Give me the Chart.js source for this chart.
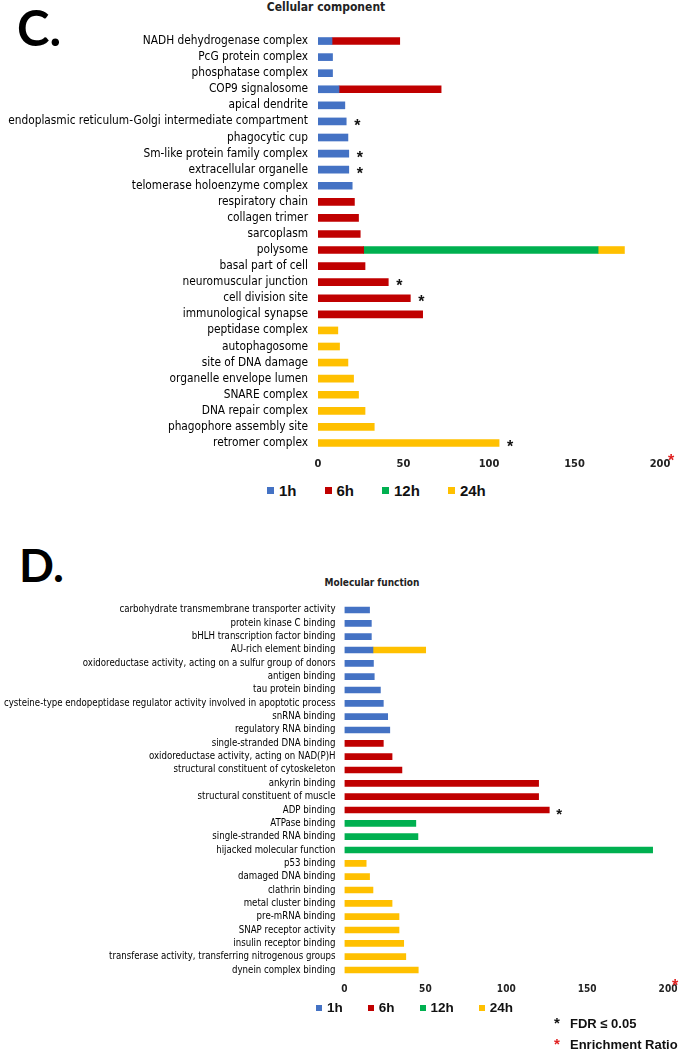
<!DOCTYPE html>
<html><head><meta charset="utf-8">
<script src="https://cdn.jsdelivr.net/npm/chart.js@4.4.1/dist/chart.umd.min.js"></script>
<style>
html,body{margin:0;padding:0;background:#fff;}
body{width:684px;height:1050px;position:relative;overflow:hidden;font-family:'Liberation Sans',Arial,sans-serif;}
.panel{position:absolute;font-family:Lato,'Noto Sans',sans-serif;font-weight:700;color:#000;line-height:1;}
.ttl{position:absolute;width:300px;text-align:center;font-family:'Liberation Sans Narrow','DejaVu Sans Condensed',sans-serif;font-weight:700;color:#222;line-height:1;}
#wrapC{position:absolute;left:0;top:0;width:684px;height:480px;}
#wrapD{position:absolute;left:0;top:560px;width:684px;height:490px;}
.legend{position:absolute;display:flex;align-items:center;font-family:'Liberation Sans',Arial,sans-serif;font-weight:700;color:#111;line-height:1;white-space:nowrap;}
.legend .it{display:flex;align-items:center;}
.legend .bx{display:inline-block;margin-right:5px;}
.note{position:absolute;left:554px;font-family:'Liberation Sans',Arial,sans-serif;font-size:13px;font-weight:700;color:#111;line-height:1;white-space:nowrap;}
.note span{display:inline-block;width:16px;font-size:15px;}
</style></head>
<body>
<div class="panel" style="left:17px;top:3px;font-size:49px">C.</div>
<div class="ttl" style="left:176px;top:1px;font-size:12px">Cellular component</div>
<div id="wrapC"><canvas id="chartC"></canvas></div>
<div id="legC" class="legend" style="left:267px;top:482px;height:16px;font-size:15px;gap:28px"></div>
<div class="panel" style="left:19px;top:542px;font-size:46px">D.</div>
<div class="ttl" style="left:222px;top:578px;font-size:10px">Molecular function</div>
<div id="wrapD"><canvas id="chartD"></canvas></div>
<div id="legD" class="legend" style="left:316px;top:1001px;height:14px;font-size:13.5px;gap:25px"></div>
<div class="note" style="top:1015px"><span>*</span>FDR ≤ 0.05</div>
<div class="note" style="top:1036px"><span style="color:#e02020">*</span>Enrichment Ratio</div>
<script>
// ---------- Data: Cellular component ----------
const categoriesC = [
  "NADH dehydrogenase complex","PcG protein complex","phosphatase complex","COP9 signalosome",
  "apical dendrite","endoplasmic reticulum-Golgi intermediate compartment","phagocytic cup",
  "Sm-like protein family complex","extracellular organelle","telomerase holoenzyme complex",
  "respiratory chain","collagen trimer","sarcoplasm","polysome","basal part of cell",
  "neuromuscular junction","cell division site","immunological synapse","peptidase complex",
  "autophagosome","site of DNA damage","organelle envelope lumen","SNARE complex",
  "DNA repair complex","phagophore assembly site","retromer complex"
];
const c1h  = [8.2,8.5,8.5,12.3,15.7,16.5,17.5,18,18,20, 0,0,0,0,0,0,0,0, 0,0,0,0,0,0,0,0];
const c6h  = [39.6,0,0,59.7,0,0,0,0,0,0, 21.3,23.7,24.7,26.7,27.5,41.1,54,61.2, 0,0,0,0,0,0,0,0];
const c12h = [0,0,0,0,0,0,0,0,0,0, 0,0,0,137.1,0,0,0,0, 0,0,0,0,0,0,0,0];
const c24h = [0,0,0,0,0,0,0,0,0,0, 0,0,0,15.4,0,0,0,0, 11.6,12.6,17.5,20.8,23.7,27.5,32.9,105.9];
const sigC = [0,0,0,0,0,1,0,1,1,0, 0,0,0,0,0,1,1,0, 0,0,0,0,0,0,0,1];

// ---------- Data: Molecular function ----------
const categoriesD = [
  "carbohydrate transmembrane transporter activity","protein kinase C binding",
  "bHLH transcription factor binding","AU-rich element binding",
  "oxidoreductase activity, acting on a sulfur group of donors","antigen binding",
  "tau protein binding","cysteine-type endopeptidase regulator activity involved in apoptotic process",
  "snRNA binding","regulatory RNA binding","single-stranded DNA binding",
  "oxidoreductase activity, acting on NAD(P)H","structural constituent of cytoskeleton",
  "ankyrin binding","structural constituent of muscle","ADP binding","ATPase binding",
  "single-stranded RNA binding","hijacked molecular function","p53 binding","damaged DNA binding",
  "clathrin binding","metal cluster binding","pre-mRNA binding","SNAP receptor activity",
  "insulin receptor binding","transferase activity, transferring nitrogenous groups","dynein complex binding"
];
const d1h  = [15.5,16.6,16.6,17.6,17.9,18.4,22.2,24,26.7,28, 0,0,0,0,0,0, 0,0,0, 0,0,0,0,0,0,0,0,0];
const d6h  = [0,0,0,0,0,0,0,0,0,0, 24,29.4,35.5,120,120,126.6, 0,0,0, 0,0,0,0,0,0,0,0,0];
const d12h = [0,0,0,0,0,0,0,0,0,0, 0,0,0,0,0,0, 44.1,45.4,190.5, 0,0,0,0,0,0,0,0,0];
const d24h = [0,0,0,32.6,0,0,0,0,0,0, 0,0,0,0,0,0, 0,0,0, 13.4,15.5,17.6,29.4,33.7,33.7,36.6,37.9,45.6];
const sigD = [0,0,0,0,0,0,0,0,0,0, 0,0,0,0,0,1, 0,0,0, 0,0,0,0,0,0,0,0,0];

const seriesNames = ["1h","6h","12h","24h"];
const xTicks = [0,50,100,150,200];
const COLORS = ["#4472C4","#C00000","#00B050","#FFC000"];

const NARROW = "'Liberation Sans Narrow','DejaVu Sans Condensed',sans-serif";

const starPlugin = {
  id: 'stars',
  afterDraw(chart, args, o) {
    const {ctx} = chart;
    const xs = chart.scales.x, ys = chart.scales.y;
    ctx.save();
    ctx.font = "bold " + o.size + "px 'Liberation Sans', Arial, sans-serif";
    ctx.textAlign = 'left';
    ctx.textBaseline = 'middle';
    ctx.fillStyle = '#111';
    o.flags.forEach((f, i) => {
      if (!f) return;
      let total = 0;
      chart.data.datasets.forEach(ds => { total += ds.data[i] || 0; });
      ctx.fillText('*', xs.getPixelForValue(total) + o.gap, ys.getPixelForValue(i) + o.size * 0.3);
    });
    ctx.fillStyle = '#e02020';
    ctx.font = "bold " + o.redSize + "px 'Liberation Sans', Arial, sans-serif";
    ctx.fillText('*', xs.getPixelForValue(xTicks[xTicks.length-1]) + o.redDx, xs.top + o.redDy);
    ctx.restore();
  }
};

function buildLegend(id, boxSize) {
  const el = document.getElementById(id);
  seriesNames.forEach((n, k) => {
    const it = document.createElement('div'); it.className = 'it';
    const bx = document.createElement('span'); bx.className = 'bx';
    bx.style.width = boxSize + 'px'; bx.style.height = boxSize + 'px'; bx.style.background = COLORS[k];
    const tx = document.createElement('span'); tx.textContent = n;
    it.appendChild(bx); it.appendChild(tx); el.appendChild(it);
  });
}

function makeChart(id, cats, s, flags, cfg) {
  const datasets = s.map((d, k) => ({
    label: seriesNames[k], data: d.map(v => v === 0 ? null : v), backgroundColor: COLORS[k],
    barThickness: cfg.barThickness, borderWidth: 0, stack: 's'
  }));
  return new Chart(document.getElementById(id), {
    type: 'bar',
    data: { labels: cats, datasets },
    plugins: [starPlugin],
    options: {
      indexAxis: 'y', responsive: true, maintainAspectRatio: false, animation: false,
      devicePixelRatio: 1,
      layout: { padding: cfg.padding },
      scales: {
        x: {
          stacked: true, min: 0, max: 200,
          afterBuildTicks: sc => { sc.ticks = xTicks.map(v => ({value: v})); },
          grid: { display: false, drawTicks: false }, border: { display: false },
          ticks: { padding: cfg.xPad, color: '#222', font: { family: NARROW, size: cfg.xFont, weight: 'bold' } },
          afterFit: sc => { sc.height = cfg.xHeight; }
        },
        y: {
          stacked: true,
          grid: { display: false, drawTicks: false }, border: { display: false },
          ticks: { padding: cfg.yPad, color: '#000', autoSkip: false, font: { family: NARROW, size: cfg.yFont } },
          afterFit: sc => { sc.width = cfg.yWidth; }
        }
      },
      plugins: {
        legend: { display: false },
        tooltip: { enabled: false },
        stars: { flags, gap: cfg.starGap, size: cfg.starSize, redSize: cfg.redSize, redDx: cfg.redDx, redDy: cfg.redDy }
      }
    }
  });
}

buildLegend('legC', 7);
buildLegend('legD', 6);

makeChart('chartC', categoriesC, [c1h, c6h, c12h, c24h], sigC, {
  barThickness: 7, padding: {top: 33, left: 0, right: 24, bottom: 4},
  xPad: 7, xFont: 11, xHeight: 25, yPad: 10, yFont: 11.8, yWidth: 318,
  starGap: 8, starSize: 16, redSize: 16, redDx: 8, redDy: 11
});
makeChart('chartD', categoriesD, [d1h, d6h, d12h, d24h], sigD, {
  barThickness: 6, padding: {top: 43.3, left: 0, right: 13, bottom: 56.3},
  xPad: 6.6, xFont: 10, xHeight: 17, yPad: 9, yFont: 9.6, yWidth: 344.5,
  starGap: 7, starSize: 15, redSize: 16, redDx: 4, redDy: 10
});
</script>
</body></html>
